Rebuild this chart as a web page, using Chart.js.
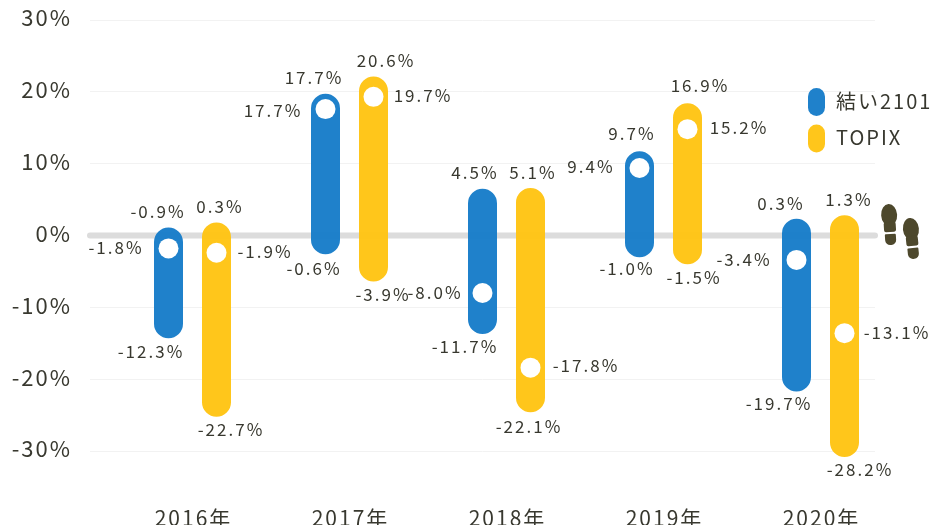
<!DOCTYPE html>
<html>
<head>
<meta charset="utf-8">
<style>
html, body { margin: 0; padding: 0; background: #fff; overflow: hidden; }
#wrap { width: 930px; height: 525px; }
</style>
<script src="https://cdn.jsdelivr.net/npm/chart.js@4/dist/chart.umd.min.js"></script>
</head>
<body>
<div id="wrap"><canvas id="myChart" width="930" height="525"></canvas></div>
<script>
const years = [2016, 2017, 2018, 2019, 2020];
const seriesNames = ["結い2101", "TOPIX"];

// values (the yellow marks sit slightly below their printed numbers)
const blueHigh = [-0.9, 17.7, 4.5, 9.7, 0.3];
const blueLow = [-12.3, -0.6, -11.7, -1.0, -19.7];
const blueMid = [-1.8, 17.6, -8.0, 9.4, -3.4];
const yellowHigh = [-0.2, 20.1, 4.6, 16.4, 0.8];
const yellowLow = [-23.2, -4.4, -22.6, -2.0, -28.8];
const yellowMid = [-2.4, 19.3, -18.4, 14.8, -13.6];

// printed numbers
const blueHighText = ["-0.9%", "17.7%", "4.5%", "9.7%", "0.3%"];
const blueLowText = ["-12.3%", "-0.6%", "-11.7%", "-1.0%", "-19.7%"];
const blueMidText = ["-1.8%", "17.7%", "-8.0%", "9.4%", "-3.4%"];
const yellowHighText = ["0.3%", "20.6%", "5.1%", "16.9%", "1.3%"];
const yellowLowText = ["-22.7%", "-3.9%", "-22.1%", "-1.5%", "-28.2%"];
const yellowMidText = ["-1.9%", "19.7%", "-17.8%", "15.2%", "-13.1%"];

const BLUE = "rgba(24, 125, 201, 0.97)";
const YELLOW = "rgba(255, 196, 20, 0.97)";
const TEXT = "#38382f";
const FONT = '"Noto Sans CJK JP", "Noto Sans", sans-serif';
const YELLOW_SHIFT = 48 / 157; // yellow column sits 48px right of the blue one

const xBlue = years;
const xYellow = years.map((y) => y + YELLOW_SHIFT);

// one thick round-capped stroke per year, null keeps the strokes apart
function columns(xs, high, low) {
    const pts = [];
    xs.forEach((x, i) => {
        pts.push({x: x, y: high[i]}, {x: x, y: low[i]}, {x: x, y: null});
    });
    return pts;
}

function dots(xs, mids) {
    return xs.map((x, i) => ({x: x, y: mids[i]}));
}

// label placement relative to the mark, in px
const labelGroups = [
    {xs: xBlue, ys: blueHigh, text: blueHighText, dx: [-10.5, -11.5, -7.5, -7.5, -15.5], dy: [-30, -31, -30.5, -32, -30]},
    {xs: xBlue, ys: blueMid, text: blueMidText, dx: [-52.5, -52.5, -47.5, -48.5, -52.5], dy: [-1, 1, 0, -1, 0]},
    {xs: xBlue, ys: blueLow, text: blueLowText, dx: [-17.5, -11.5, -17.5, -12.5, -17.5], dy: [28, 29, 27, 26, 27]},
    {xs: xYellow, ys: yellowHigh, text: yellowHighText, dx: [3.5, 12.5, 2.5, 12.5, 4.5], dy: [-30, -31, -30, -32, -30]},
    {xs: xYellow, ys: yellowMid, text: yellowMidText, dx: [48.5, 49.5, 55.5, 51.5, 52.5], dy: [-1, -1, -2.5, -1.5, -1]},
    {xs: xYellow, ys: yellowLow, text: yellowLowText, dx: [14.5, 9.5, -1.5, 6.5, 15.5], dy: [27, 27, 29, 28, 27]}
];

const decorations = {
    id: "decorations",
    beforeDraw(chart) {
        chart.ctx.letterSpacing = "2px"; // original font is wider than anything installed
    },
    afterDatasetsDraw(chart) {
        const {ctx, scales} = chart;
        ctx.save();

        // value labels
        ctx.fillStyle = TEXT;
        ctx.font = "400 17px " + FONT;
        ctx.textAlign = "center";
        ctx.textBaseline = "middle";
        labelGroups.forEach((g) => {
            g.text.forEach((t, i) => {
                ctx.fillText(t, scales.x.getPixelForValue(g.xs[i]) + g.dx[i], scales.y.getPixelForValue(g.ys[i]) + g.dy[i]);
            });
        });

        // legend
        ctx.letterSpacing = "2px";
        [BLUE, YELLOW].forEach((c, i) => {
            const top = 88 + i * 36.5;
            ctx.fillStyle = c;
            ctx.beginPath();
            ctx.roundRect(808, top, 17, 28, 8.5);
            ctx.fill();
            ctx.fillStyle = TEXT;
            ctx.font = "400 20px " + FONT;
            ctx.textAlign = "left";
            ctx.fillText(seriesNames[i], 836, top + 13);
        });

        // footprints
        ctx.fillStyle = "#4d482c";
        const foot = (x, y, r) => {
            ctx.save();
            ctx.translate(x, y);
            ctx.rotate(r);
            ctx.beginPath();
            ctx.ellipse(0, -6, 8, 11, 0, 0, Math.PI * 2);
            ctx.fill();
            ctx.beginPath();
            ctx.roundRect(-6, 1, 12, 10, 2);
            ctx.fill();
            ctx.beginPath();
            ctx.roundRect(-5.5, 13, 11, 11, [1, 1, 5, 5]);
            ctx.fill();
            ctx.restore();
        };
        foot(889.5, 221, -0.06);
        foot(911.5, 235, -0.1);

        ctx.restore();
    }
};

new Chart(document.getElementById("myChart").getContext("2d"), {
    type: "scatter",
    data: {
        datasets: [
            {
                label: "zero",
                data: [{x: 2015.5, y: 0}, {x: 2020.5, y: 0}],
                showLine: true,
                borderColor: "#dcdcdc",
                borderWidth: 6,
                borderCapStyle: "round",
                pointRadius: 0,
                clip: false,
                order: 3
            },
            {
                label: seriesNames[0],
                data: columns(xBlue, blueHigh, blueLow),
                showLine: true,
                borderColor: BLUE,
                borderWidth: 29,
                borderCapStyle: "round",
                pointRadius: 0,
                clip: false,
                order: 2
            },
            {
                label: seriesNames[1],
                data: columns(xYellow, yellowHigh, yellowLow),
                showLine: true,
                borderColor: YELLOW,
                borderWidth: 29,
                borderCapStyle: "round",
                pointRadius: 0,
                clip: false,
                order: 2
            },
            {
                label: seriesNames[0] + " mid",
                data: dots(xBlue, blueMid),
                pointRadius: 10,
                pointBackgroundColor: "#fff",
                pointBorderWidth: 0,
                order: 1
            },
            {
                label: seriesNames[1] + " mid",
                data: dots(xYellow, yellowMid),
                pointRadius: 10,
                pointBackgroundColor: "#fff",
                pointBorderWidth: 0,
                order: 1
            }
        ]
    },
    options: {
        responsive: false,
        animation: false,
        layout: {padding: {top: 20, right: 55, left: 0, bottom: 0}},
        plugins: {legend: {display: false}, tooltip: {enabled: false}},
        scales: {
            x: {
                type: "linear",
                min: 2015.5,
                max: 2020.5,
                afterBuildTicks: (scale) => {
                    scale.ticks = years.map((y) => ({value: y}));
                },
                afterFit: (scale) => {
                    scale.height = 74;
                },
                grid: {display: false},
                border: {display: false},
                ticks: {
                    padding: 46,
                    labelOffset: 25,
                    maxRotation: 0,
                    autoSkip: false,
                    color: TEXT,
                    font: {family: FONT, size: 21, weight: "400"},
                    callback: (v) => v + "年"
                }
            },
            y: {
                min: -30,
                max: 30,
                afterFit: (scale) => {
                    scale.width = 90;
                    scale.paddingTop = 0;
                    scale.paddingBottom = 0;
                },
                grid: {color: "#f2f2f2", lineWidth: 1, drawTicks: false},
                border: {display: false},
                ticks: {
                    stepSize: 10,
                    padding: 18,
                    labelOffset: -2,
                    color: TEXT,
                    font: {family: FONT, size: 22, weight: "400"},
                    callback: (v) => v + "%"
                }
            }
        }
    },
    plugins: [decorations]
});
</script>
</body>
</html>
